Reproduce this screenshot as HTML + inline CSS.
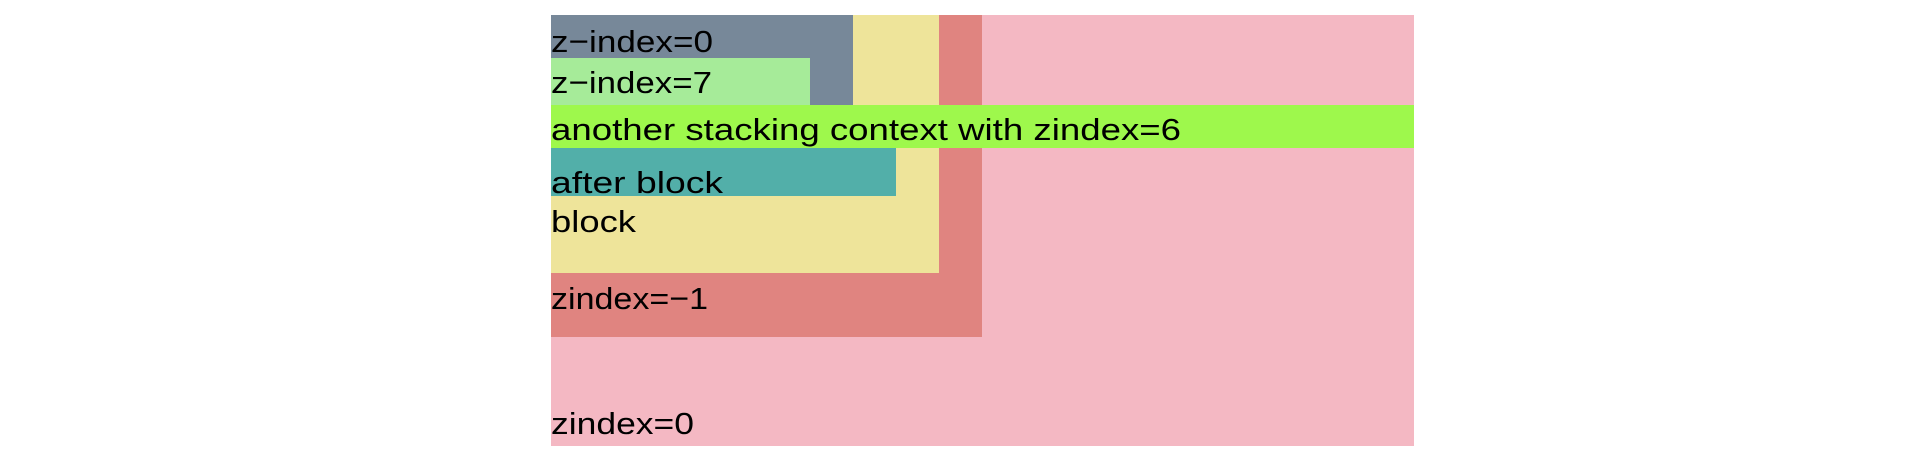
<!DOCTYPE html>
<html><head><meta charset="utf-8"><style>
html,body{margin:0;padding:0;background:#fff;width:1920px;height:466px;overflow:hidden}
svg{display:block}
text{font-family:"Liberation Sans",sans-serif;font-size:31px;fill:#000}
</style></head><body>
<svg width="1920" height="466" viewBox="0 0 1920 466">
<rect x="551" y="15" width="863" height="431" fill="#f4b8c3"/>
<rect x="551" y="15" width="431" height="322" fill="#e08480"/>
<rect x="551" y="15" width="388" height="258" fill="#eee49a"/>
<rect x="551" y="15" width="302" height="90" fill="#778899"/>
<rect x="551" y="58" width="259" height="47" fill="#a6eb99"/>
<rect x="551" y="105" width="863" height="43" fill="#9ef84c"/>
<rect x="551" y="148" width="345" height="48" fill="#52afa9"/>
<text x="551" y="52" textLength="162" lengthAdjust="spacingAndGlyphs">z−index=0</text>
<text x="551" y="93" textLength="161" lengthAdjust="spacingAndGlyphs">z−index=7</text>
<text x="551" y="140" textLength="630" lengthAdjust="spacingAndGlyphs">another stacking context with zindex=6</text>
<text x="551" y="193" textLength="172" lengthAdjust="spacingAndGlyphs">after block</text>
<text x="551" y="232" textLength="85" lengthAdjust="spacingAndGlyphs">block</text>
<text x="551" y="309" textLength="157" lengthAdjust="spacingAndGlyphs">zindex=−1</text>
<text x="551" y="434" textLength="143" lengthAdjust="spacingAndGlyphs">zindex=0</text>
</svg>
</body></html>
